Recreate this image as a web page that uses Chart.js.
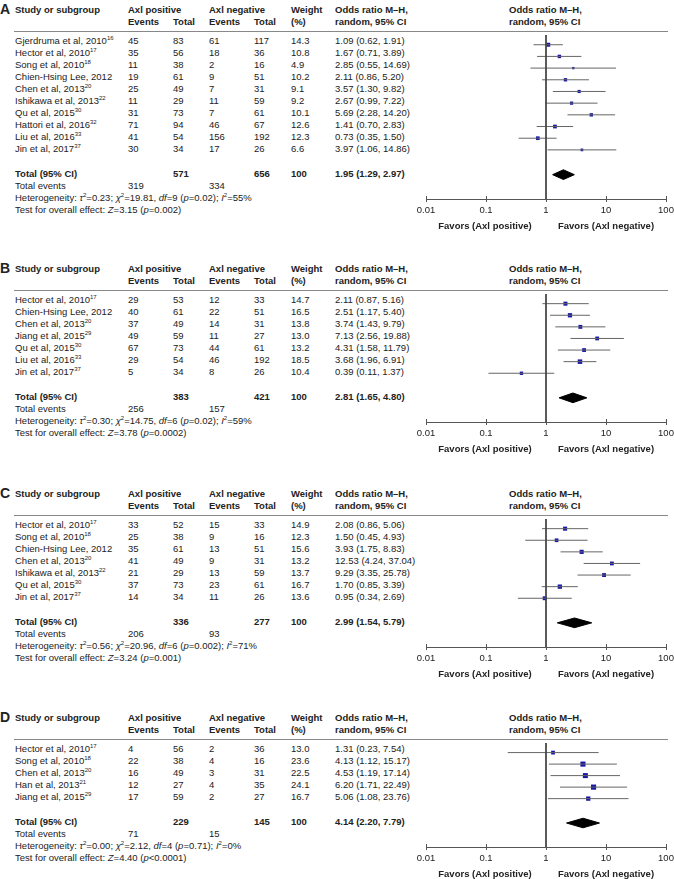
<!DOCTYPE html>
<html><head><meta charset="utf-8">
<script src="https://cdn.jsdelivr.net/npm/chart.js@4/dist/chart.umd.min.js"></script>
<style>
html,body{margin:0;padding:0;background:#fff;overflow:hidden;width:674px;height:879px;}
body{position:relative;font-family:"Liberation Sans",Arial,sans-serif;font-size:9.5px;color:#222;}
.t{position:absolute;white-space:nowrap;line-height:12px;height:12px;}
.b{font-weight:bold;}
sup{font-size:6px;line-height:0;vertical-align:4px;}
.hl{position:absolute;height:1px;background:#888;}
canvas{position:absolute;}
.L{position:absolute;font-weight:bold;font-size:14px;line-height:14px;}
.fav{transform:translateX(-50%);font-weight:bold;}
</style></head><body>
<script>
// ---------- data ----------
const TICK_VALUES = [0.01, 0.1, 1, 10, 100];
const TICK_LABELS = ['0.01', '0.1', '1', '10', '100'];

// Panel A
const A_study   = ['Gjerdruma et al, 2010','Hector et al, 2010','Song et al, 2010','Chien-Hsing Lee, 2012','Chen et al, 2013','Ishikawa et al, 2013','Qu et al, 2015','Hattori et al, 2016','Liu et al, 2016','Jin et al, 2017'];
const A_ref     = ['16','17','18','','20','22','30','32','33','37'];
const A_posEv   = [45,35,11,19,25,11,31,71,41,30];
const A_posTot  = [83,56,38,61,49,29,73,94,54,34];
const A_negEv   = [61,18,2,9,7,11,7,46,156,17];
const A_negTot  = [117,36,16,51,31,59,61,67,192,26];
const A_weight  = [14.3,10.8,4.9,10.2,9.1,9.2,10.1,12.6,12.3,6.6];
const A_or      = [1.09,1.67,2.85,2.11,3.57,2.67,5.69,1.41,0.73,3.97];
const A_lo      = [0.62,0.71,0.55,0.86,1.30,0.99,2.28,0.70,0.35,1.06];
const A_hi      = [1.91,3.89,14.69,5.20,9.82,7.22,14.20,2.83,1.50,14.86];
const A_totals  = [571, 656];
const A_events  = [319, 334];
const A_pooled  = [1.95, 1.29, 2.97];
const A_het     = ['0.23','19.81','9','=0.02','55'];
const A_test    = ['3.15','=0.002'];

// Panel B
const B_study   = ['Hector et al, 2010','Chien-Hsing Lee, 2012','Chen et al, 2013','Jiang et al, 2015','Qu et al, 2015','Liu et al, 2016','Jin et al, 2017'];
const B_ref     = ['17','','20','29','30','33','37'];
const B_posEv   = [29,40,37,49,67,29,5];
const B_posTot  = [53,61,49,59,73,54,34];
const B_negEv   = [12,22,14,11,44,46,8];
const B_negTot  = [33,51,31,27,61,192,26];
const B_weight  = [14.7,16.5,13.8,13.0,13.2,18.5,10.4];
const B_or      = [2.11,2.51,3.74,7.13,4.31,3.68,0.39];
const B_lo      = [0.87,1.17,1.43,2.56,1.58,1.96,0.11];
const B_hi      = [5.16,5.40,9.79,19.88,11.79,6.91,1.37];
const B_totals  = [383, 421];
const B_events  = [256, 157];
const B_pooled  = [2.81, 1.65, 4.80];
const B_het     = ['0.30','14.75','6','=0.02','59'];
const B_test    = ['3.78','=0.0002'];

// Panel C
const C_study   = ['Hector et al, 2010','Song et al, 2010','Chien-Hsing Lee, 2012','Chen et al, 2013','Ishikawa et al, 2013','Qu et al, 2015','Jin et al, 2017'];
const C_ref     = ['17','18','','20','22','30','37'];
const C_posEv   = [33,25,35,41,21,37,14];
const C_posTot  = [52,38,61,49,29,73,34];
const C_negEv   = [15,9,13,9,13,23,11];
const C_negTot  = [33,16,51,31,59,61,26];
const C_weight  = [14.9,12.3,15.6,13.2,13.7,16.7,13.6];
const C_or      = [2.08,1.50,3.93,12.53,9.29,1.70,0.95];
const C_lo      = [0.86,0.45,1.75,4.24,3.35,0.85,0.34];
const C_hi      = [5.06,4.93,8.83,37.04,25.78,3.39,2.69];
const C_totals  = [336, 277];
const C_events  = [206, 93];
const C_pooled  = [2.99, 1.54, 5.79];
const C_het     = ['0.56','20.96','6','=0.002','71'];
const C_test    = ['3.24','=0.001'];

// Panel D
const D_study   = ['Hector et al, 2010','Song et al, 2010','Chen et al, 2013','Han et al, 2013','Jiang et al, 2015'];
const D_ref     = ['17','18','20','21','29'];
const D_posEv   = [4,22,16,12,17];
const D_posTot  = [56,38,49,27,59];
const D_negEv   = [2,4,3,4,2];
const D_negTot  = [36,16,31,35,27];
const D_weight  = [13.0,23.6,22.5,24.1,16.7];
const D_or      = [1.31,4.13,4.53,6.20,5.06];
const D_lo      = [0.23,1.12,1.19,1.71,1.08];
const D_hi      = [7.54,15.17,17.14,22.49,23.76];
const D_totals  = [229, 145];
const D_events  = [71, 15];
const D_pooled  = [4.14, 2.20, 7.79];
const D_het     = ['0.00','2.12','4','=0.71','0'];
const D_test    = ['4.40','<0.0001'];

// ---------- layout ----------
const ROW = 12;
const COLS = {study:15, posEv:128, posTot:173, negEv:209, negTot:254, weight:291, ci:335, plotHead:509};
const FONT = '"Liberation Sans", Arial, sans-serif';

function el(cls, html, x, y, extra) {
  const d = document.createElement('div');
  d.className = cls;
  d.innerHTML = html;
  d.style.left = x + 'px';
  d.style.top = y + 'px';
  if (extra) Object.assign(d.style, extra);
  document.body.appendChild(d);
  return d;
}
function txt(x, yc, html, bold) { return el('t' + (bold ? ' b' : ''), html, x, yc - 6); }
const f2 = v => v.toFixed(2);
const ciText = (o, l, h) => `${f2(o)} (${f2(l)}, ${f2(h)})`;

const innerTicks = {
  id: 'innerTicks',
  afterDraw(chart) {
    const s = chart.scales.x, ctx = chart.ctx;
    ctx.save();
    ctx.strokeStyle = '#555'; ctx.lineWidth = 1;
    TICK_VALUES.forEach(v => {
      const px = Math.round(s.getPixelForValue(v)) + 0.5;
      ctx.beginPath(); ctx.moveTo(px, s.top - 3); ctx.lineTo(px, s.top); ctx.stroke();
    });
    ctx.restore();
  }
};

function panel(letter, row0, d) {
  const h1 = row0 - 31, h2 = row0 - 19, lineY = row0 - 10;
  const n = d.study.length;
  const totalIdx = n + 1.12;
  const totalY = row0 + totalIdx * ROW;
  const axisY = totalY + 25;

  el('L', letter, 0, h1 - 8.2);
  txt(COLS.study, h1, 'Study or subgroup', true);
  txt(COLS.posEv, h1, 'Axl positive', true);
  txt(COLS.negEv, h1, 'Axl negative', true);
  txt(COLS.weight, h1, 'Weight', true);
  txt(COLS.ci, h1, 'Odds ratio M–H,', true);
  txt(COLS.plotHead, h1, 'Odds ratio M–H,', true);
  txt(COLS.posEv, h2, 'Events', true);
  txt(COLS.posTot, h2, 'Total', true);
  txt(COLS.negEv, h2, 'Events', true);
  txt(COLS.negTot, h2, 'Total', true);
  txt(COLS.weight, h2, '(%)', true);
  txt(COLS.ci, h2, 'random, 95% CI', true);
  txt(COLS.plotHead, h2, 'random, 95% CI', true);
  el('hl', '', 14, lineY, {width: '654px'});

  for (let i = 0; i < n; i++) {
    const y = row0 + i * ROW;
    txt(COLS.study, y, d.study[i] + (d.ref[i] ? `<sup>${d.ref[i]}</sup>` : ''));
    txt(COLS.posEv, y, d.posEv[i]);
    txt(COLS.posTot, y, d.posTot[i]);
    txt(COLS.negEv, y, d.negEv[i]);
    txt(COLS.negTot, y, d.negTot[i]);
    txt(COLS.weight, y, d.weight[i].toFixed(1));
    txt(COLS.ci, y, ciText(d.or[i], d.lo[i], d.hi[i]));
  }
  txt(COLS.study, totalY, 'Total (95% CI)', true);
  txt(COLS.posTot, totalY, d.totals[0], true);
  txt(COLS.negTot, totalY, d.totals[1], true);
  txt(COLS.weight, totalY, '100', true);
  txt(COLS.ci, totalY, ciText(d.pooled[0], d.pooled[1], d.pooled[2]), true);
  txt(COLS.study, totalY + ROW, 'Total events');
  txt(COLS.posEv, totalY + ROW, d.events[0]);
  txt(COLS.negEv, totalY + ROW, d.events[1]);
  const h = d.het;
  txt(COLS.study, totalY + 2 * ROW, `Heterogeneity: <i>τ</i><sup>2</sup>=${h[0]}; <i>χ</i><sup>2</sup>=${h[1]}, <i>df</i>=${h[2]} (<i>p</i>${h[3]}); <i>I</i><sup>2</sup>=${h[4]}%`);
  txt(COLS.study, totalY + 3 * ROW, `Test for overall effect: <i>Z</i>=${d.test[0]} (<i>p</i>${d.test[1]})`);

  // chart
  const cLeft = 406, cW = 280, axisH = 25;
  const cH = Math.round(axisY - lineY) + axisH;
  const cv = document.createElement('canvas');
  cv.width = cW; cv.height = cH;
  cv.style.left = cLeft + 'px'; cv.style.top = lineY + 'px';
  cv.style.width = cW + 'px'; cv.style.height = cH + 'px';
  document.body.appendChild(cv);

  const yMin = (lineY - row0) / ROW;
  const yMax = (axisY - row0) / ROW;
  const side = w => Math.max(2.2, 1.05 * Math.sqrt(w));
  const datasets = [];
  datasets.push({type: 'line', data: [{x: 1, y: yMin}, {x: 1, y: yMax}], borderColor: '#444', borderWidth: 1, pointRadius: 0, fill: false});
  for (let i = 0; i < n; i++) {
    datasets.push({type: 'line', data: [{x: d.lo[i], y: i}, {x: d.hi[i], y: i}], borderColor: '#666', borderWidth: 1, pointRadius: 0, fill: false});
  }
  datasets.push({type: 'scatter', data: d.or.map((v, i) => ({x: v, y: i})), pointStyle: 'rect',
    pointRadius: ctx => side(d.weight[ctx.dataIndex]) / Math.SQRT2,
    backgroundColor: '#1616a6', borderColor: '#1616a6', borderWidth: 0});
  const dh = 5 / ROW;
  const p = d.pooled;
  datasets.push({type: 'line', data: [{x: p[1], y: totalIdx}, {x: p[0], y: totalIdx - dh}, {x: p[2], y: totalIdx}, {x: p[0], y: totalIdx + dh}, {x: p[1], y: totalIdx}],
    borderColor: '#000', backgroundColor: '#000', borderWidth: 1, pointRadius: 0, fill: 'shape', tension: 0});

  new Chart(cv, {
    type: 'line',
    data: {datasets},
    options: {
      responsive: false, animation: false, events: [], devicePixelRatio: 1,
      layout: {padding: {left: cLeft === 406 ? 20 : 0, right: 20, top: 0, bottom: 0}},
      plugins: {legend: {display: false}, tooltip: {enabled: false}},
      elements: {line: {tension: 0}},
      clip: false,
      scales: {
        x: {
          type: 'logarithmic', position: 'bottom', min: 0.01, max: 100,
          afterBuildTicks: s => { s.ticks = TICK_VALUES.map(v => ({value: v})); },
          afterFit: s => { s.height = axisH; },
          ticks: {callback: (v, i) => TICK_LABELS[i], autoSkip: false, maxRotation: 0, padding: 3,
                  color: '#222', font: {family: FONT, size: 9.5}},
          grid: {drawOnChartArea: false, drawTicks: true, tickLength: 3, color: '#555'},
          border: {display: true, color: '#555', width: 1}
        },
        y: {type: 'linear', reverse: true, min: yMin, max: yMax, display: false}
      }
    },
    plugins: [innerTicks]
  });

  el('t fav', 'Favors (Axl positive)', 485, axisY + 26.5 - 6);
  el('t fav', 'Favors (Axl negative)', 606, axisY + 26.5 - 6);
}

function pack(p) {
  return {study: window[p + '_study'], ref: window[p + '_ref'], posEv: window[p + '_posEv'], posTot: window[p + '_posTot'],
    negEv: window[p + '_negEv'], negTot: window[p + '_negTot'], weight: window[p + '_weight'], or: window[p + '_or'],
    lo: window[p + '_lo'], hi: window[p + '_hi'], totals: window[p + '_totals'], events: window[p + '_events'],
    pooled: window[p + '_pooled'], het: window[p + '_het'], test: window[p + '_test']};
}
</script>
<script>
panel('A', 41, {study:A_study, ref:A_ref, posEv:A_posEv, posTot:A_posTot, negEv:A_negEv, negTot:A_negTot, weight:A_weight, or:A_or, lo:A_lo, hi:A_hi, totals:A_totals, events:A_events, pooled:A_pooled, het:A_het, test:A_test});
panel('B', 300, {study:B_study, ref:B_ref, posEv:B_posEv, posTot:B_posTot, negEv:B_negEv, negTot:B_negTot, weight:B_weight, or:B_or, lo:B_lo, hi:B_hi, totals:B_totals, events:B_events, pooled:B_pooled, het:B_het, test:B_test});
panel('C', 525, {study:C_study, ref:C_ref, posEv:C_posEv, posTot:C_posTot, negEv:C_negEv, negTot:C_negTot, weight:C_weight, or:C_or, lo:C_lo, hi:C_hi, totals:C_totals, events:C_events, pooled:C_pooled, het:C_het, test:C_test});
panel('D', 749, {study:D_study, ref:D_ref, posEv:D_posEv, posTot:D_posTot, negEv:D_negEv, negTot:D_negTot, weight:D_weight, or:D_or, lo:D_lo, hi:D_hi, totals:D_totals, events:D_events, pooled:D_pooled, het:D_het, test:D_test});
</script>
</body></html>
